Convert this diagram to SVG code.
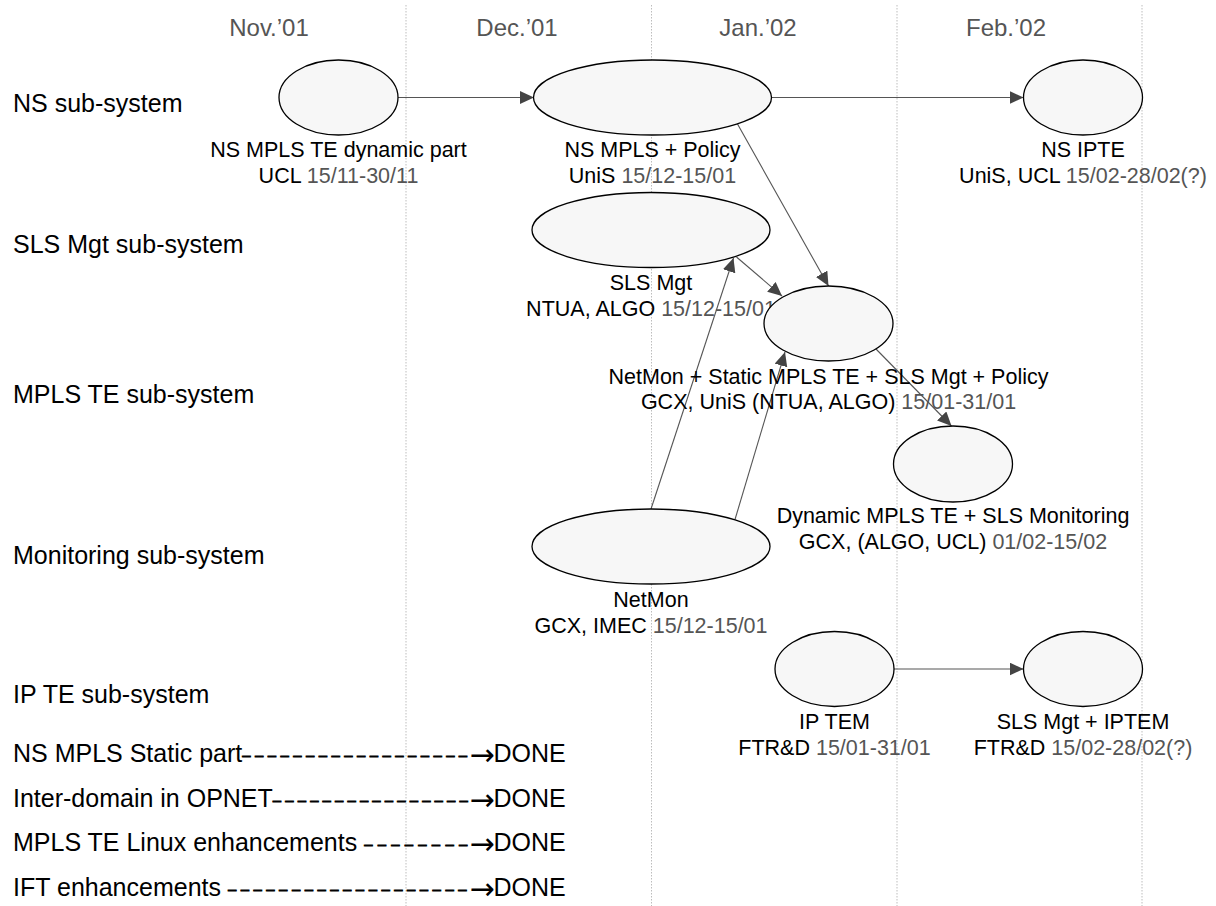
<svg xmlns="http://www.w3.org/2000/svg" width="1216" height="906" viewBox="0 0 1216 906">
<style>
text{font-family:"Liberation Sans",Arial,sans-serif;fill:#000}
.month{font-size:24px;fill:#555;text-anchor:middle}
.lane{font-size:25px}
.lbl{font-size:21.5px;text-anchor:middle}
.date{fill:#555}
.node{fill:#f7f7f7;stroke:#000;stroke-width:1.3}
.grid{stroke:#bdbdbd;stroke-width:1;stroke-dasharray:1.5 1.5}
.edge{stroke:#555;stroke-width:1.1;fill:none;marker-end:url(#ah)}
.dash{font-size:15px;stroke:#000;stroke-width:0.8}
.arr{font-family:"DejaVu Sans",sans-serif;font-size:30px}
</style>
<defs>
<marker id="ah" markerUnits="userSpaceOnUse" markerWidth="15" markerHeight="14" refX="14" refY="6.5" orient="auto">
<path d="M0,0 L14,6.5 L0,13 Z" fill="#444"/>
</marker>
</defs>
<rect width="1216" height="906" fill="#fff"/>
<g id="grid">
<line class="grid" x1="406" y1="5" x2="406" y2="906"/>
<line class="grid" x1="651.5" y1="5" x2="651.5" y2="906"/>
<line class="grid" x1="897" y1="5" x2="897" y2="906"/>
<line class="grid" x1="1142" y1="5" x2="1142" y2="906"/>
</g>
<g id="months">
<text class="month" x="269" y="36">Nov.’01</text>
<text class="month" x="517" y="36">Dec.’01</text>
<text class="month" x="758" y="36">Jan.’02</text>
<text class="month" x="1006" y="36">Feb.’02</text>
</g>
<g id="lanes">
<text class="lane" x="13" y="111.7">NS sub-system</text>
<text class="lane" x="13" y="252.7">SLS Mgt sub-system</text>
<text class="lane" x="13" y="403.3">MPLS TE sub-system</text>
<text class="lane" x="13" y="564">Monitoring sub-system</text>
<text class="lane" x="13" y="703.3">IP TE sub-system</text>
</g>
<g id="done">
<text class="lane" x="13" y="761.7">NS MPLS Static part<tspan class="dash" dy="-2" style="letter-spacing:4.4px">––––––––––––––––––</tspan><tspan class="arr" x="469.5" dy="5.5">→</tspan><tspan x="493.5" dy="-3.5">DONE</tspan></text>
<text class="lane" x="13" y="806.7">Inter-domain in OPNET<tspan class="dash" dy="-2" style="letter-spacing:4.1px">––––––––––––––––</tspan><tspan class="arr" x="469.5" dy="5.5">→</tspan><tspan x="493.5" dy="-3.5">DONE</tspan></text>
<text class="lane" x="13" y="850.7">MPLS TE Linux enhancements <tspan class="dash" dy="-2" style="letter-spacing:5.2px">––––––––</tspan><tspan class="arr" x="469.5" dy="5.5">→</tspan><tspan x="493.5" dy="-3.5">DONE</tspan></text>
<text class="lane" x="13" y="895.7">IFT enhancements <tspan class="dash" dy="-2" style="letter-spacing:4.45px">–––––––––––––––––––</tspan><tspan class="arr" x="469.5" dy="5.5">→</tspan><tspan x="493.5" dy="-3.5">DONE</tspan></text>
</g>
<g id="connectors">
<line class="edge" x1="398" y1="97.5" x2="534" y2="97.5"/>
<line class="edge" x1="771.5" y1="97.5" x2="1023.5" y2="97.5"/>
<line class="edge" x1="737.5" y1="124" x2="828.5" y2="286"/>
<line class="edge" x1="736.5" y1="257" x2="782" y2="296"/>
<line class="edge" x1="651" y1="509" x2="733.5" y2="258"/>
<line class="edge" x1="735" y1="519.5" x2="785" y2="352"/>
<line class="edge" x1="876" y1="349" x2="951.5" y2="426"/>
<line class="edge" x1="894" y1="669" x2="1023.5" y2="669"/>
</g>
<g id="node-ns-mpls-te-dynamic">
<ellipse class="node" cx="338.5" cy="97.5" rx="59.5" ry="37.5"/>
<text class="lbl" x="338.5" y="157.3">NS MPLS TE dynamic part</text>
<text class="lbl" x="338.5" y="182.7">UCL <tspan class="date">15/11-30/11</tspan></text>
</g>
<g id="node-ns-mpls-policy">
<ellipse class="node" cx="652.5" cy="97.5" rx="119" ry="37.5"/>
<text class="lbl" x="652.5" y="157.3">NS MPLS + Policy</text>
<text class="lbl" x="652.5" y="182.7">UniS <tspan class="date">15/12-15/01</tspan></text>
</g>
<g id="node-ns-ipte">
<ellipse class="node" cx="1083" cy="97.5" rx="59.5" ry="37.5"/>
<text class="lbl" x="1083" y="157.3">NS IPTE</text>
<text class="lbl" x="1083" y="182.7">UniS, UCL <tspan class="date">15/02-28/02(?)</tspan></text>
</g>
<g id="node-sls-mgt">
<ellipse class="node" cx="651" cy="230" rx="119" ry="37.5"/>
<text class="lbl" x="651" y="290">SLS Mgt</text>
<text class="lbl" x="651" y="316">NTUA, ALGO <tspan class="date">15/12-15/01</tspan></text>
</g>
<g id="node-netmon-static">
<ellipse class="node" cx="828.5" cy="323.5" rx="64.5" ry="37.5"/>
<text class="lbl" x="828.5" y="384">NetMon + Static MPLS TE + SLS Mgt + Policy</text>
<text class="lbl" x="828.5" y="409.3">GCX, UniS (NTUA, ALGO) <tspan class="date">15/01-31/01</tspan></text>
</g>
<g id="node-dynamic">
<ellipse class="node" cx="953" cy="464" rx="59.5" ry="38"/>
<text class="lbl" x="953" y="523.3">Dynamic MPLS TE + SLS Monitoring</text>
<text class="lbl" x="953" y="549.3">GCX, (ALGO, UCL) <tspan class="date">01/02-15/02</tspan></text>
</g>
<g id="node-netmon">
<ellipse class="node" cx="651" cy="546.5" rx="119" ry="37.5"/>
<text class="lbl" x="651" y="607">NetMon</text>
<text class="lbl" x="651" y="633">GCX, IMEC <tspan class="date">15/12-15/01</tspan></text>
</g>
<g id="node-ip-tem">
<ellipse class="node" cx="834.5" cy="669" rx="59.5" ry="37.5"/>
<text class="lbl" x="834.5" y="729">IP TEM</text>
<text class="lbl" x="834.5" y="755">FTR&amp;D <tspan class="date">15/01-31/01</tspan></text>
</g>
<g id="node-sls-iptem">
<ellipse class="node" cx="1083" cy="669" rx="59.5" ry="37.5"/>
<text class="lbl" x="1083" y="729">SLS Mgt + IPTEM</text>
<text class="lbl" x="1083" y="755">FTR&amp;D <tspan class="date">15/02-28/02(?)</tspan></text>
</g>
</svg>
